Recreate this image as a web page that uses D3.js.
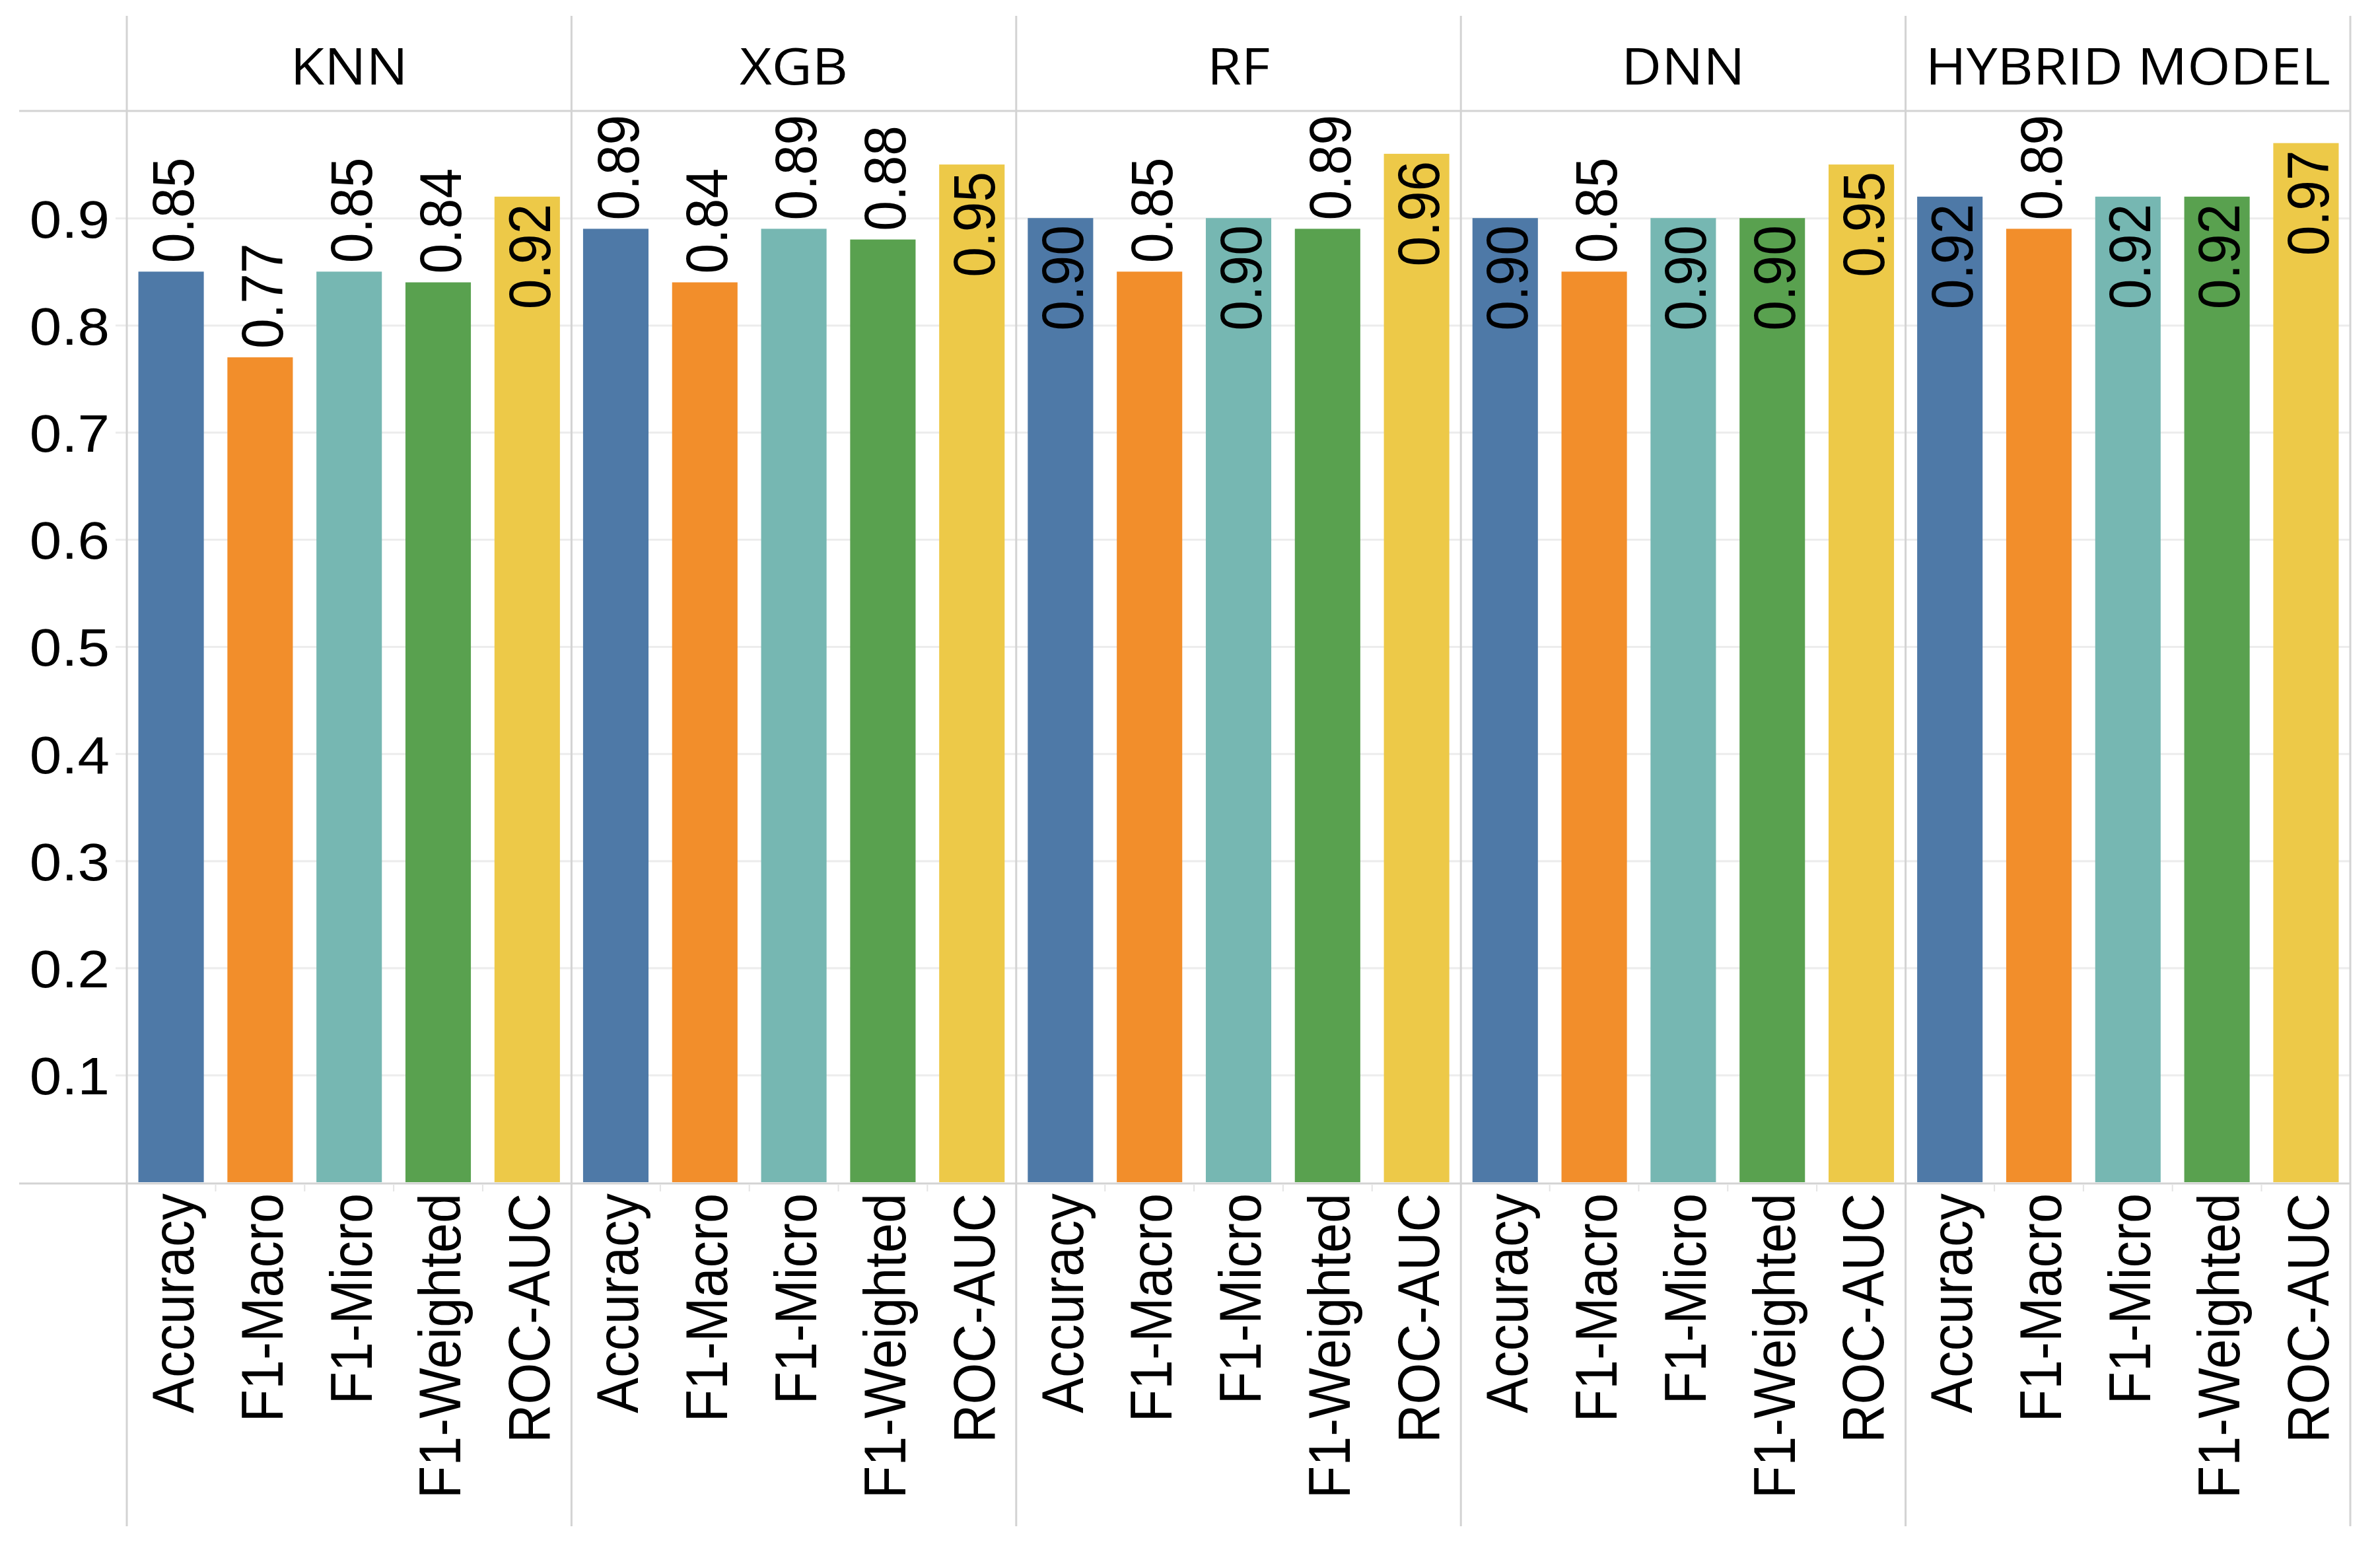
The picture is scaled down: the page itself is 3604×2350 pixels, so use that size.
<html>
<head>
  <script src="https://d3js.org/d3.v7.min.js"></script>
  <style>
    body { margin: 0; background: #fff; }
    .num { font-family: "Liberation Sans", Arial, sans-serif; fill: #000; }
    .hdr { font-family: "Open Sans", sans-serif; font-size: 77px; fill: #000; }
  </style>
</head>
<body>
  <svg id="chart" width="3604" height="2350"></svg>
  <script>
    // data
    const models = ["KNN", "XGB", "RF", "DNN", "HYBRID MODEL"];
    const metrics = ["Accuracy", "F1-Macro", "F1-Micro", "F1-Weighted", "ROC-AUC"];
    const knnValues = [0.85, 0.77, 0.85, 0.84, 0.92];
    const xgbValues = [0.89, 0.84, 0.89, 0.88, 0.95];
    const rfValues = [0.90, 0.85, 0.90, 0.89, 0.96];
    const dnnValues = [0.90, 0.85, 0.90, 0.90, 0.95];
    const hybridValues = [0.92, 0.89, 0.92, 0.92, 0.97];
    const yTicks = [0.1, 0.2, 0.3, 0.4, 0.5, 0.6, 0.7, 0.8, 0.9];
    const colors = ["#4e79a7", "#f28e2b", "#76b7b2", "#59a14f", "#edc948"];

    const allValues = [knnValues, xgbValues, rfValues, dnnValues, hybridValues];

    const svg = d3.select("svg#chart");

    const left = 192, right = 3559;
    const headTop = 24, headBottom = 168;
    const zeroY = 1790, footBottom = 2311;
    const lineColor = "#d3d3d3";
    const stretch = 1.09; // the source picture is a bit wider than tall

    const panelScale = d3.scaleBand().domain(models).range([left, right]);
    const yScale = d3.scaleLinear().domain([0, 1]).range([zeroY, headBottom]);
    const metricScale = d3.scaleBand().domain(metrics)
      .range([0, panelScale.bandwidth()]).paddingInner(0.265).paddingOuter(0.13);
    const colorScale = d3.scaleOrdinal().domain(metrics).range(colors);

    // gridlines
    const grid = svg.append("g")
      .attr("transform", "translate(" + left + ",0)")
      .call(d3.axisLeft(yScale).tickValues(yTicks).tickSize(-(right - left)).tickSizeOuter(0).tickFormat(""));
    grid.select(".domain").remove();
    grid.selectAll("line").attr("stroke", "#ececec").attr("stroke-width", 3).attr("x1", 0);
    grid.selectAll(".tick").append("line")
      .attr("x1", -17).attr("x2", 0).attr("stroke", "#ececec").attr("stroke-width", 3);

    // y labels
    const yAxis = svg.append("g")
      .attr("transform", "translate(166,0)")
      .call(d3.axisLeft(yScale).tickValues(yTicks).tickSize(0).tickPadding(0).tickFormat(d3.format(".1f")));
    yAxis.select(".domain").remove();
    yAxis.selectAll("text").attr("class", "num").attr("font-size", 80).attr("dy", "0.36em")
      .attr("fill", "#000").attr("transform", "scale(" + stretch + ",1)")
      .attr("x", 0);

    // panels
    models.forEach((m, i) => {
      const px = panelScale(m);
      const g = svg.append("g").attr("transform", "translate(" + px + ",0)");
      const vals = allValues[i];

      g.append("text").attr("class", "hdr")
        .attr("transform", "translate(" + (panelScale.bandwidth() / 2) + ",128) scale(" + stretch + ",1)")
        .attr("text-anchor", "middle").text(m);

      metrics.forEach((k, j) => {
        const v = vals[j];
        const bx = metricScale(k);
        const top = yScale(v);
        g.append("rect")
          .attr("x", bx).attr("y", top)
          .attr("width", metricScale.bandwidth()).attr("height", zeroY - top)
          .attr("fill", colorScale(k));

        const cx = bx + metricScale.bandwidth() / 2 + 2;
        const inside = top - 13 - 165 < headBottom;
        g.append("text").attr("class", "num")
          .attr("font-size", 82)
          .attr("transform", "translate(" + cx + "," + (inside ? top + 11 : top - 13) + ") rotate(-90) scale(1," + stretch + ")")
          .attr("text-anchor", inside ? "end" : "start")
          .attr("dy", "0.36em")
          .text(d3.format(".2f")(v));

        // category label
        g.append("text").attr("class", "num")
          .attr("font-size", 81)
          .attr("transform", "translate(" + cx + ",1807) rotate(-90) scale(1," + stretch + ")")
          .attr("text-anchor", "end")
          .attr("dy", "0.36em")
          .text(k);

        if (j > 0) {
          const tx = metricScale(k) - metricScale.step() * metricScale.paddingInner() / 2;
          g.append("line")
            .attr("x1", tx).attr("x2", tx)
            .attr("y1", 1794).attr("y2", 1804)
            .attr("stroke", "#e4e4e4").attr("stroke-width", 2);
        }
      });
    });

    // frame lines
    const lines = svg.append("g").attr("stroke", lineColor).attr("stroke-width", 3);
    lines.append("line").attr("x1", 29).attr("x2", right).attr("y1", headBottom).attr("y2", headBottom);
    lines.append("line").attr("x1", 29).attr("x2", right).attr("y1", 1792).attr("y2", 1792);
    models.concat(["end"]).forEach((m, i) => {
      const x = i < models.length ? panelScale(m) : right;
      lines.append("line").attr("x1", x).attr("x2", x).attr("y1", headTop).attr("y2", footBottom);
    });
  </script>
</body>
</html>
